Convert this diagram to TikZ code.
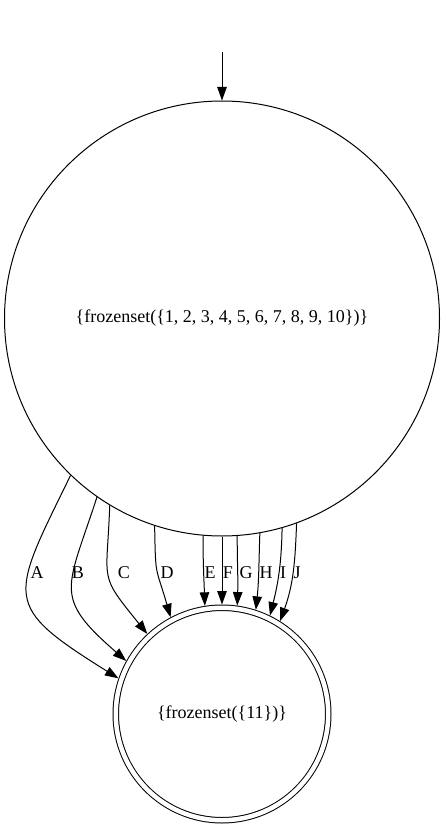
\documentclass[tikz,border=0pt]{standalone}
\usepackage{fontspec}
\setmainfont{Liberation Serif}
\usetikzlibrary{arrows.meta}

\begin{document}
\begin{tikzpicture}[x=1pt, y=1pt,
    state/.style={circle, draw, line width=1pt, inner sep=0pt,
                  font=\fontsize{18}{21}\selectfont},
    accept/.style={state, double, double distance=4.5pt, outer sep=3.25pt},
    trans/.style={line width=1pt, -{Triangle[length=13.5pt, width=9.5pt]}},
    lbl/.style={font=\fontsize{18}{21}\selectfont, inner sep=0pt}]

\useasboundingbox (0,0) rectangle (445,-829);

%% ── States ───────────────────────────────────────────────────────────────────
\node[state, minimum size=435pt] (q0) at (222,-318.5)
    {\{frozenset(\{1, 2, 3, 4, 5, 6, 7, 8, 9, 10\})\}};

\node[accept, minimum size=212.5pt] (q1) at (222,-714)
    {\{frozenset(\{11\})\}};

%% ── Initial arrow ────────────────────────────────────────────────────────────
\coordinate (start) at (222,-52);
\draw[trans] (start) -- (q0);

%% ── Transitions ──────────────────────────────────────────────────────────────
\draw[trans] (q0.226.8) to[out=244, in=148, looseness=1.7] (q1.161);
\draw[trans] (q0.235.1) to[out=252, in=139, looseness=1.5] (q1.151.8);
\draw[trans] (q0.239.3) to[out=268, in=129, looseness=1.5] (q1.133.9);
\draw[trans] (q0.252.1) to[out=271, in=106, looseness=1.5] (q1.118);
\draw[trans] (q0.265)   to[out=270, in=92] (q1.99);
\draw[trans] (q0.270)   -- (q1.90);
\draw[trans] (q0.274.7) to[out=270, in=88] (q1.82);
\draw[trans] (q0.280.3) to[out=268, in=84] (q1.72.5);
\draw[trans] (q0.286.3) to[out=269, in=76] (q1.64);
\draw[trans] (q0.290.1) to[out=268, in=70] (q1.58.3);

%% ── Labels ───────────────────────────────────────────────────────────────────
\node[lbl] (la) at (37,-573)  {A};
\node[lbl] (lb) at (78,-573)  {B};
\node[lbl] (lc) at (124,-573) {C};
\node[lbl] (ld) at (167,-573) {D};
\node[lbl] (le) at (210,-573) {E};
\node[lbl] (lf) at (228,-573) {F};
\node[lbl] (lg) at (246,-573) {G};
\node[lbl] (lh) at (266,-573) {H};
\node[lbl] (li) at (283,-573) {I};
\node[lbl] (lj) at (297,-573) {J};

\end{tikzpicture}
\end{document}
